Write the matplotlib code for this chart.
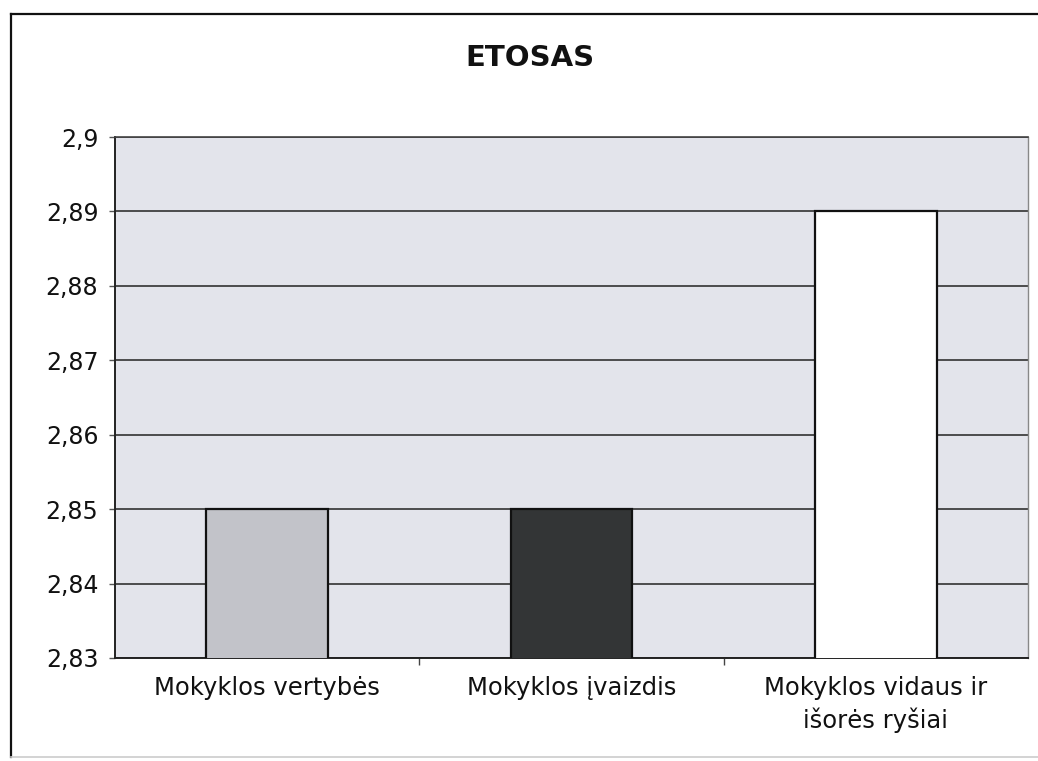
import matplotlib
matplotlib.use("Agg")
import matplotlib.pyplot as plt
from matplotlib.lines import Line2D

categories = ["Mokyklos vertybės", "Mokyklos įvaizdis", "Mokyklos vidaus ir\nišorės ryšiai"]
values = [2.85, 2.85, 2.89]
bar_colors = ["#c2c3c9", "#333536", "#ffffff"]
yticks = [2.83, 2.84, 2.85, 2.86, 2.87, 2.88, 2.89, 2.9]
ytick_labels = ["2,83", "2,84", "2,85", "2,86", "2,87", "2,88", "2,89", "2,9"]
title = "ETOSAS"

plt.rcParams['font.family'] = ['DejaVu Sans']

fig = plt.figure(figsize=(10.38, 7.61), dpi=100)
fig.patch.set_facecolor("white")
ax = fig.add_axes([115/1038, 1-658/761, (1028-115)/1038, (658-137)/761])
ax.set_facecolor("#e3e4eb")

x = list(range(len(categories)))
ax.bar(x, values, width=0.4, color=bar_colors, edgecolor="#111111", linewidth=1.6, zorder=3)

ax.set_xlim(-0.5, 2.5)
ax.set_ylim(2.83, 2.9)
ax.set_yticks(yticks)
ax.set_yticklabels(ytick_labels, fontsize=17, color="#111111")
ax.yaxis.grid(True, color="#222222", linewidth=1.1, zorder=1)
ax.set_axisbelow(True)

ax.set_xticks(x)
ax.set_xticklabels(categories, fontsize=17.5, linespacing=1.35, color="#111111")
ax.tick_params(axis='x', length=0, pad=13)
ax.tick_params(axis='y', length=4, width=1, color="#555555", pad=8)
# category boundary tick marks
ax.set_xticks([0.5, 1.5], minor=True)
ax.tick_params(axis='x', which='minor', length=5, width=1, color="#444444", direction='out')

for s in ["left", "bottom"]:
    ax.spines[s].set_color("#222222")
    ax.spines[s].set_linewidth(1.4)
ax.spines["top"].set_color("#444444")
ax.spines["top"].set_linewidth(1.2)
ax.spines["right"].set_color("#888888")
ax.spines["right"].set_linewidth(1.0)

fig.text(530/1038, 1-58/761, title, ha="center", va="center", fontsize=21, fontweight="bold", color="#111111")

# outer chart frame
fig.add_artist(Line2D([11/1038, 11/1038], [1-14/761, 1-757/761], transform=fig.transFigure, color="#111111", linewidth=1.6))
fig.add_artist(Line2D([11/1038, 1.0], [1-14/761, 1-14/761], transform=fig.transFigure, color="#111111", linewidth=1.6))
fig.add_artist(Line2D([11/1038, 1.0], [1-757/761, 1-757/761], transform=fig.transFigure, color="#cccccc", linewidth=1.2))

fig.savefig("out.png", dpi=100)
